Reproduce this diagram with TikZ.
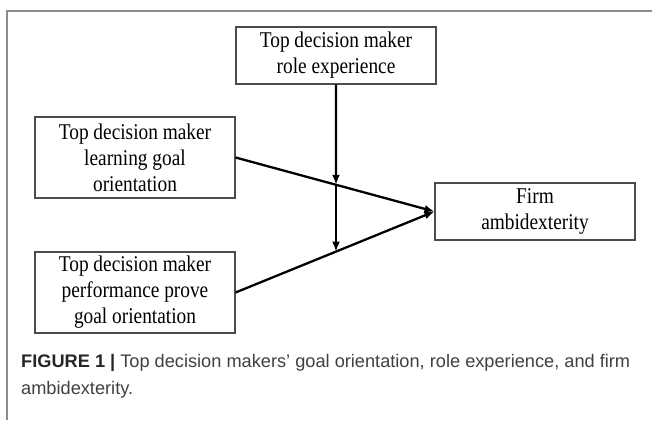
\documentclass[tikz,border=0pt]{standalone}
\usepackage{fontspec}
\setmainfont{Liberation Serif}
\newfontfamily\boxfont{Liberation Serif}[FakeStretch=0.86]
\newfontfamily\capfont{Liberation Sans}
\usetikzlibrary{arrows.meta, calc}
\definecolor{FrameGray}{rgb}{0.55,0.55,0.55}
\definecolor{BoxGray}{rgb}{0.3,0.3,0.3}
\definecolor{CapGray}{rgb}{0.25,0.25,0.25}

\begin{document}
\begin{tikzpicture}[x=1pt, y=-1pt,
    varbox/.style={draw=BoxGray, line width=1.1pt, minimum width=200pt, inner sep=0pt,
      align=center, font=\boxfont\fontsize{22.5}{26}\selectfont},
    link/.style={line width=2.3pt, -{Latex[length=10pt,width=8pt]}}]
    \useasboundingbox (0,0) rectangle (652,420);
    \draw [FrameGray, line width=1.5pt] (7,420) -- (7,11) -- (652,11);

    \node[varbox, minimum height=57pt] (role)  at (336,55.5)  {Top decision maker\\role experience};
    \node[varbox, minimum height=81pt] (learn) at (135,157.5) {Top decision maker\\learning goal\\orientation};
    \node[varbox, minimum height=81pt] (prove) at (135,292.5) {Top decision maker\\performance prove\\goal orientation};
    \node[varbox, minimum height=57pt] (firm)  at (535,211.5) {Firm\\ambidexterity};

    % moderation points on the two paths
    \coordinate (m1) at ($(learn.east)!0.505!(firm.west)$);
    \coordinate (m2) at ($(prove.east)!0.505!(firm.west)$);

    \draw [link] (learn.east) -- (firm.west);
    \draw [link] (prove.east) -- (firm.west);
    \draw [link] (role.south) -- (m1);
    \draw [link] (m1) -- (m2);

    \node[anchor=north west, inner sep=0pt, align=left, text=CapGray,
      font=\capfont\fontsize{18.2}{27}\selectfont] (caption) at (21,354)
      {\textbf{\color{black!85}FIGURE 1 |} Top decision makers’ goal orientation, role experience, and firm\\ambidexterity.};
\end{tikzpicture}
\end{document}
